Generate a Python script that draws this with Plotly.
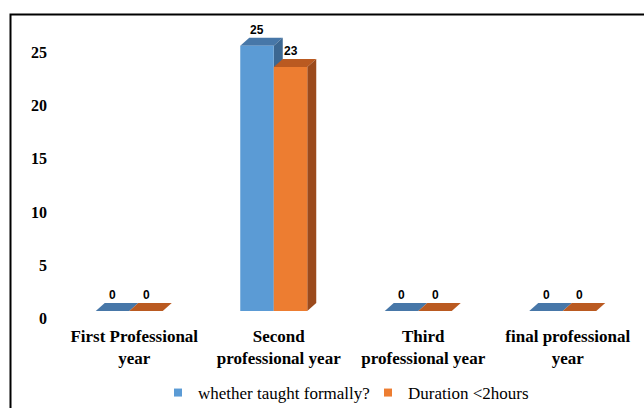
import plotly.graph_objects as go

categories = ["First Professional<br>year", "Second<br>professional year",
              "Third<br>professional year", "final professional<br>year"]
taught = [0, 25, 0, 0]
duration = [0, 23, 0, 0]
series_names = ["whether taught formally?", "Duration <2hours"]
y_ticks = [0, 5, 10, 15, 20, 25]

W, H = 644, 408
L, R, T, B = 57, 9, 20, 88
PW, PH = W - L - R, H - T - B
y0, y1 = -0.848, 27.427
px_per_unit = PH / (y1 - y0)
cat_px = PW / 4

bw = 33.5 / cat_px            # bar width in data units
DX = 9 / cat_px               # depth offset x (data units)
DY = 8 / px_per_unit          # depth offset y (data units)

front = ["#5B9BD5", "#ED7D31"]
top = ["#4777A8", "#BA5A21"]
side = ["#3C6791", "#9B4A1C"]
SERIF = "Liberation Serif, Times New Roman, serif"

xs = list(range(len(categories)))
fig = go.Figure()
offsets = [-bw, 0.0]
for k, (vals, name) in enumerate(zip([taught, duration], series_names)):
    fig.add_trace(go.Bar(x=xs, y=vals, name=name, width=bw, offset=offsets[k],
                         marker=dict(color=front[k], line=dict(width=0)),
                         showlegend=False))
# legend entries (small square markers)
for k, name in enumerate(series_names):
    fig.add_trace(go.Scatter(x=[None], y=[None], mode="markers", name=name,
                             marker=dict(symbol="square", size=8, color=front[k]),
                             showlegend=True))

shapes = []
for i in xs:
    for k, vals in enumerate([taught, duration]):
        v = vals[i]
        xa = i + offsets[k]
        xb = xa + bw
        shapes.append(dict(type="path", layer="below", xref="x", yref="y",
                           path=f"M{xa},{v} L{xb},{v} L{xb+DX},{v+DY} L{xa+DX},{v+DY} Z",
                           fillcolor=top[k], line=dict(width=0)))
        if v > 0:
            shapes.append(dict(type="path", layer="below", xref="x", yref="y",
                               path=f"M{xb},0 L{xb},{v} L{xb+DX},{v+DY} L{xb+DX},{DY} Z",
                               fillcolor=side[k], line=dict(width=0)))

def px_x(p):
    return (p - L) / PW
def px_y(p):
    return (T + PH - p) / PH
shapes.append(dict(type="rect", xref="paper", yref="paper", layer="above",
                   x0=px_x(10.5), x1=px_x(700), y0=px_y(460), y1=px_y(14.5),
                   line=dict(color="black", width=2), fillcolor="rgba(0,0,0,0)"))

annotations = []
for i in xs:
    for k, vals in enumerate([taught, duration]):
        annotations.append(dict(x=i + offsets[k] + bw / 2, y=vals[i], xref="x", yref="y",
                                text="<b>%d</b>" % vals[i], showarrow=False, yshift=16,
                                font=dict(family="Liberation Sans", size=12, color="black"),
                                xanchor="center", yanchor="middle"))

fig.update_layout(
    width=W, height=H, margin=dict(l=L, r=R, t=T, b=B, autoexpand=False),
    paper_bgcolor="white", plot_bgcolor="white",
    barmode="overlay", showlegend=True,
    shapes=shapes, annotations=annotations,
    font=dict(family=SERIF, color="black"),
    xaxis=dict(range=[-0.5, 3.5], tickmode="array", tickvals=xs,
               ticktext=["<b>" + c + "</b>" for c in categories],
               showgrid=False, zeroline=False, showline=False, ticks="",
               tickfont=dict(family=SERIF, size=17, color="black"),
               ticklabelshift=5, ticklabelstandoff=4, fixedrange=True),
    yaxis=dict(range=[y0, y1], tickmode="array", tickvals=y_ticks,
               ticktext=["<b>%d</b>" % t for t in y_ticks],
               showgrid=False, zeroline=False, showline=False, ticks="",
               tickfont=dict(family=SERIF, size=16, color="black"),
               ticklabelshift=7, ticklabelstandoff=9, fixedrange=True),
    legend=dict(orientation="h", x=px_x(158), xanchor="left", y=px_y(393), yanchor="middle",
                font=dict(family=SERIF, size=17, color="black"),
                bgcolor="rgba(0,0,0,0)", itemwidth=30, traceorder="normal",
                entrywidth=165, entrywidthmode="pixels"),
)

fig.write_html("out.html")
